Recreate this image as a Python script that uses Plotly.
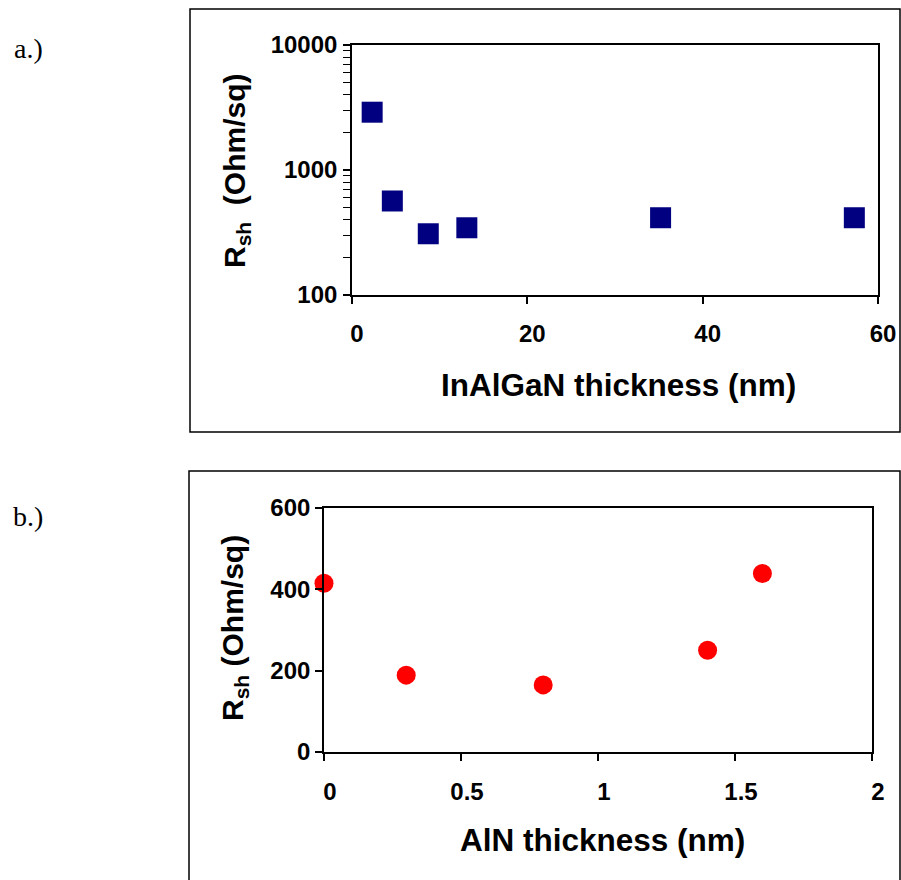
import plotly.graph_objects as go

# Panel a: sheet resistance vs InAlGaN barrier thickness
inalgan_nm = [2.3, 4.6, 8.7, 13.1, 35.2, 57.3]
inalgan_rsh = [2900, 565, 309, 345, 415, 415]

# Panel b: sheet resistance vs AlN interlayer thickness
aln_nm = [0.0, 0.3, 0.8, 1.4, 1.6]
aln_rsh = [415, 189, 165, 250, 439]

a_xticks = [0, 20, 40, 60]
a_yticks = [100, 1000, 10000]
a_yminor = [200, 300, 400, 500, 600, 700, 800, 900,
            2000, 3000, 4000, 5000, 6000, 7000, 8000, 9000]
b_xticks = [0, 0.5, 1, 1.5, 2]
b_xticklabels = ["0", "0.5", "1", "1.5", "2"]
b_yticks = [0, 200, 400, 600]

W, H = 901, 880


def px_x(p):
    return p / W


def px_y(p):
    return 1 - p / H


SANS = "Liberation Sans, Arial, sans-serif"
SERIF = "Liberation Serif, Times New Roman, serif"
tickfont = dict(family=SANS, size=24, color="black", weight="bold")

fig = go.Figure()

fig.add_trace(go.Scatter(
    x=inalgan_nm, y=inalgan_rsh, mode="markers",
    marker=dict(symbol="square", size=21, color="#000080",
                line=dict(width=0)),
    xaxis="x", yaxis="y", cliponaxis=False, showlegend=False,
))
fig.add_trace(go.Scatter(
    x=aln_nm, y=aln_rsh, mode="markers",
    marker=dict(symbol="circle", size=19, color="#ff0000",
                line=dict(width=0)),
    xaxis="x2", yaxis="y2", cliponaxis=False, showlegend=False,
))

common = dict(showline=True, linecolor="black", linewidth=1.6, mirror=True,
              showgrid=False, zeroline=False, ticks="outside", ticklen=7,
              tickwidth=1.5, tickcolor="black", tickfont=tickfont,
              automargin=False)

fig.update_layout(
    width=W, height=H,
    margin=dict(l=0, r=0, t=0, b=0, pad=0, autoexpand=False),
    paper_bgcolor="white", plot_bgcolor="white",
    xaxis=dict(domain=[px_x(352), px_x(878)], range=[0, 60],
               tickvals=a_xticks, anchor="y",
               ticklabelstandoff=9, ticklabelshift=5, **common),
    yaxis=dict(domain=[px_y(295), px_y(45)], type="log", range=[2, 4],
               tickvals=a_yticks, ticktext=[str(v) for v in a_yticks],
               anchor="x", ticklabelstandoff=1,
               minor=dict(tickvals=a_yminor, ticks="outside", ticklen=7,
                          tickwidth=1.2, tickcolor="black"),
               **common),
    xaxis2=dict(domain=[px_x(324), px_x(872)], range=[0, 2],
                tickvals=b_xticks, ticktext=b_xticklabels, anchor="y2",
                ticklabelstandoff=10, ticklabelshift=6, **common),
    yaxis2=dict(domain=[px_y(752), px_y(508)], range=[0, 600],
                tickvals=b_yticks, anchor="x2", ticklabelstandoff=0,
                **common),
)

xtitlefont = dict(family=SANS, size=31.5, color="black", weight="bold")
ytitlefont = dict(family=SANS, size=30, color="black", weight="bold")
ann = [
    dict(x=px_x(618), y=px_y(385), text="InAlGaN thickness (nm)",
         font=xtitlefont),
    dict(x=px_x(236), y=px_y(171), text="R<sub>sh</sub>  (Ohm/sq)",
         font=ytitlefont, textangle=-90),
    dict(x=px_x(602), y=px_y(840), text="AlN thickness (nm)",
         font=xtitlefont),
    dict(x=px_x(234), y=px_y(628), text="R<sub>sh</sub> (Ohm/sq)",
         font=ytitlefont, textangle=-90),
    dict(x=px_x(28), y=px_y(48), text="a.)",
         font=dict(family=SERIF, size=28, color="black")),
    dict(x=px_x(28), y=px_y(516), text="b.)",
         font=dict(family=SERIF, size=28, color="black")),
]
for a in ann:
    a.update(xref="paper", yref="paper", showarrow=False,
             xanchor="center", yanchor="middle")
fig.update_layout(annotations=ann)

# Frames around each panel
fig.update_layout(shapes=[
    dict(type="rect", xref="paper", yref="paper",
         x0=px_x(190), x1=px_x(900), y0=px_y(432), y1=px_y(9),
         line=dict(color="black", width=1.5)),
    dict(type="rect", xref="paper", yref="paper",
         x0=px_x(189), x1=px_x(900), y0=px_y(900), y1=px_y(471),
         line=dict(color="black", width=1.5)),
])

fig.write_html("out.html")
